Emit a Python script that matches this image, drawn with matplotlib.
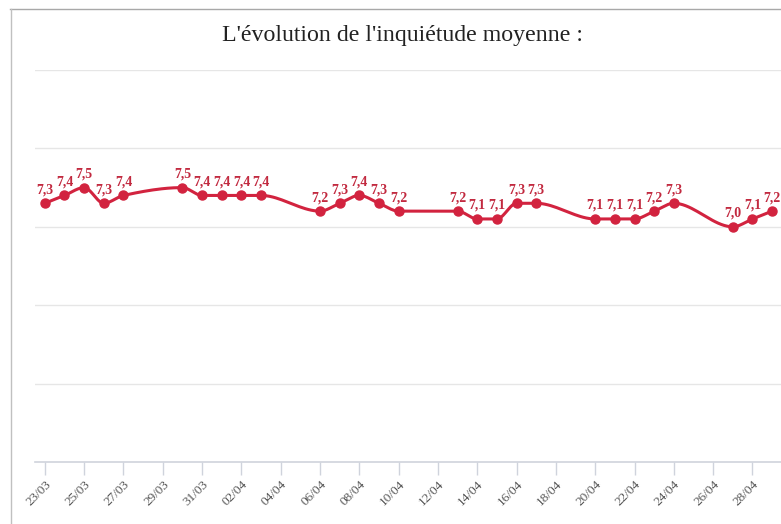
import numpy as np
import pandas as pd
import matplotlib
matplotlib.use("Agg")
import matplotlib.pyplot as plt
import matplotlib.dates as mdates
from matplotlib.lines import Line2D

# ---- data ----
dates = ["2020-03-23", "2020-03-24", "2020-03-25", "2020-03-26", "2020-03-27",
         "2020-03-30", "2020-03-31", "2020-04-01", "2020-04-02", "2020-04-03",
         "2020-04-06", "2020-04-07", "2020-04-08", "2020-04-09", "2020-04-10",
         "2020-04-13", "2020-04-14", "2020-04-15", "2020-04-16", "2020-04-17",
         "2020-04-20", "2020-04-21", "2020-04-22", "2020-04-23", "2020-04-24",
         "2020-04-27", "2020-04-28", "2020-04-29"]
values = [7.3, 7.4, 7.5, 7.3, 7.4,
          7.5, 7.4, 7.4, 7.4, 7.4,
          7.2, 7.3, 7.4, 7.3, 7.2,
          7.2, 7.1, 7.1, 7.3, 7.3,
          7.1, 7.1, 7.1, 7.2, 7.3,
          7.0, 7.1, 7.2]
title = "L'évolution de l'inquiétude moyenne :"
tick_start, tick_end = "2020-03-23", "2020-04-28"

COLOR = "#d2233f"

dts = pd.to_datetime(dates)
x = mdates.date2num(dts)
y = np.array(values, dtype=float)


def monotone_cubic(xk, yk, n=20):
    xk = np.asarray(xk, float); yk = np.asarray(yk, float)
    h = np.diff(xk); d = np.diff(yk) / h
    m = np.zeros_like(yk)
    m[0], m[-1] = d[0], d[-1]
    for i in range(1, len(yk) - 1):
        if d[i - 1] * d[i] <= 0:
            m[i] = 0.0
        else:
            w1 = 2 * h[i] + h[i - 1]; w2 = h[i] + 2 * h[i - 1]
            m[i] = (w1 + w2) / (w1 / d[i - 1] + w2 / d[i])
    xs, ys = [], []
    for i in range(len(xk) - 1):
        t = np.linspace(0, 1, n, endpoint=(i == len(xk) - 2))
        h00 = 2 * t**3 - 3 * t**2 + 1
        h10 = t**3 - 2 * t**2 + t
        h01 = -2 * t**3 + 3 * t**2
        h11 = t**3 - t**2
        xs.append(xk[i] + t * h[i])
        ys.append(h00 * yk[i] + h10 * h[i] * m[i] + h01 * yk[i + 1] + h11 * h[i] * m[i + 1])
    return np.concatenate(xs), np.concatenate(ys)


W, H = 781, 524
fig = plt.figure(figsize=(W / 100, H / 100), dpi=100)
fig.patch.set_facecolor("white")

ax = fig.add_axes([35 / W, (H - 462) / H, (W - 35) / W, (462 - 70) / H])
ax.set_facecolor("white")

xs, ys = monotone_cubic(x, y)
ax.plot(xs, ys, color=COLOR, lw=2.2, zorder=3, solid_capstyle="round")
ax.plot(x, y, "o", color=COLOR, ms=6.5, zorder=4)

for xi, yi in zip(x, y):
    ax.annotate(f"{yi:.1f}".replace(".", ","), (xi, yi), xytext=(0, 5),
                textcoords="offset points", ha="center", va="bottom",
                fontsize=10, fontweight="bold", color="#c22a40",
                family="Liberation Serif", zorder=5)

x0 = mdates.date2num(pd.Timestamp(tick_start))
ax.set_xlim(x0 - 0.5, x0 + 37.45)
ax.set_ylim(4, 9)

ticks = pd.date_range(tick_start, tick_end, freq="2D")
ax.set_xticks(mdates.date2num(ticks))
ax.set_xticklabels([t.strftime("%d/%m") for t in ticks], rotation=45,
                   ha="right", va="top", rotation_mode="anchor",
                   fontsize=9.5, color="#555555", family="Liberation Serif")
ax.tick_params(axis="x", length=9, width=1, color="#cfd3dc", pad=3)
ax.set_yticks([5, 6, 7, 8, 9])
ax.tick_params(axis="y", length=0, labelleft=False)
ax.yaxis.grid(True, color="#e6e6e6", lw=1)
ax.set_axisbelow(True)
for s in ["top", "right", "left"]:
    ax.spines[s].set_visible(False)
ax.spines["bottom"].set_color("#cfd3dc")
ax.spines["bottom"].set_linewidth(1.2)

fig.text(402 / W, 1 - 35 / H, title, ha="center", va="center", fontsize=17.2,
         color="#222222", family="Liberation Serif")

# outer frame lines (top and left)
fig.add_artist(Line2D([10 / W, 1], [1 - 9 / H, 1 - 9 / H], transform=fig.transFigure,
                      color="#a8a8a8", lw=1))
fig.add_artist(Line2D([11 / W, 11 / W], [0, 1 - 9 / H], transform=fig.transFigure,
                      color="#c0c0c0", lw=1))

fig.savefig("out.png", dpi=100)
